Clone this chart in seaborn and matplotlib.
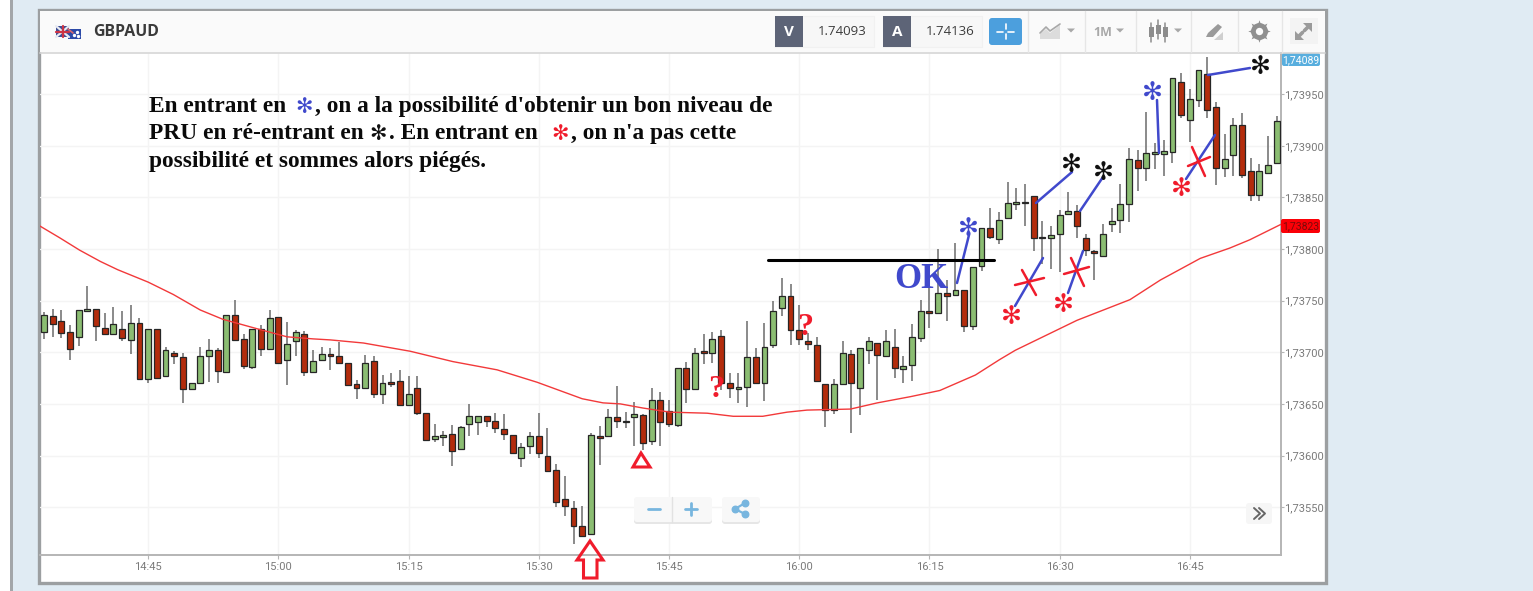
import numpy as np
import matplotlib
matplotlib.use("Agg")
import matplotlib.pyplot as plt
from matplotlib.patches import Rectangle, FancyBboxPatch, Polygon
import seaborn as sns

# price = 1.73 + value / 100000
opens = [720,735,730,720,715,740,742,724,718,723,712,728,674,723,677,699,695,664,670,696,702,681,736,713,686,723,703,734,693,711,718,681,693,
 698,696,690,669,665,692,660,671,672,649,665,641,616,618,621,606,631,632,638,633,626,620,598,609,619,600,586,558,549,532,524,619,619,
 637,632,637,639,614,654,643,630,685,664,701,699,716,670,664,666,695,670,707,743,755,722,711,707,669,644,669,698,665,702,709,696,705,684,688,714,
 740,738,757,756,760,725,784,820,810,830,844,845,851,812,811,815,834,837,811,798,793,824,828,844,886,879,892,892,894,962,925,944,970,938,879,891,920,876,852,874,883]
closes = [736,727,719,703,741,742,725,718,727,714,728,674,723,675,702,696,664,670,696,702,682,736,712,687,723,703,733,690,708,720,681,692,698,
 696,690,668,665,690,660,670,669,649,660,641,615,619,620,604,628,638,638,633,627,621,602,608,619,602,585,555,551,532,522,620,617,637,
 633,633,640,612,654,632,631,685,664,699,699,713,670,665,666,695,670,705,740,755,722,713,708,672,644,669,699,670,704,711,697,711,685,687,715,740,
 738,757,755,760,725,783,820,812,828,845,846,846,811,811,814,833,837,822,799,796,815,827,844,887,879,893,894,895,966,930,945,974,935,879,887,920,872,852,876,881,924]
highs = [739,742,741,726,741,764,742,738,744,740,746,733,723,723,705,701,699,670,705,713,704,736,751,718,723,726,741,734,729,722,721,702,705,
 704,710,690,673,697,696,678,680,683,677,677,641,631,624,630,629,650,638,638,641,640,620,612,623,641,627,592,580,556,551,622,629,645,
 667,642,652,640,665,662,654,685,691,704,718,720,722,680,680,730,704,728,750,772,766,746,719,715,669,674,711,702,704,715,709,722,723,696,727,751,
 770,800,770,806,760,783,820,840,836,865,859,863,851,827,822,838,855,843,815,799,824,840,863,898,896,933,903,906,966,971,955,974,986,943,912,927,932,888,882,910,929]
lows = [713,715,714,693,706,740,711,718,718,711,698,674,670,675,676,689,651,664,669,671,670,681,712,684,684,696,703,689,668,696,677,681,693,
 683,690,668,655,665,656,650,666,649,649,639,615,613,609,590,606,619,620,628,622,615,602,589,601,598,585,550,541,514,522,524,591,619,
 627,627,609,605,610,609,628,628,651,664,689,690,663,656,651,647,670,653,704,735,707,707,702,672,628,640,669,622,639,689,654,696,675,670,672,710,
 724,738,730,755,720,722,779,810,805,830,838,822,798,786,781,778,834,811,793,770,793,817,816,826,856,866,878,871,883,927,904,938,927,862,870,871,869,847,847,874,882]

# moving average
ma_minutes = [-0.6,1.8,4.1,6.5,8.5,12,14.9,18,20.6,24.9,28,31,33,36.8,42.2,47.1,52.2,56.8,59.4,62,64.4,66.4,69,72.1,76.4,79.4,82.8,85.6,87.9,92.9,96,99.8,103.2,107.3,110.1,111.9,119,125.1,128.6,133.2,136.6,138.9,142.5]
ma_values = [823,811,799,788,780,768,756,741,732,722,715,713,712,709,701,691,683,671,663,655,651,650,646,642,641,638,638,642,644,645,651,657,663,678,693,702,731,751,770,791,801,809,824]

time_ticks = [12,27,42,57,72,87,102,117,132]
time_labels = ["14:45","15:00","15:15","15:30","15:45","16:00","16:15","16:30","16:45"]
price_ticks = [1.73550,1.73600,1.73650,1.73700,1.73750,1.73800,1.73850,1.73900,1.73950]

sns.set_theme(style="white")
W, H = 1533, 591
fig = plt.figure(figsize=(W/100, H/100), dpi=100, facecolor="#e0ebf3")

def px_axes(z):
    a = fig.add_axes([0,0,1,1], zorder=z)
    a.set_xlim(0,W); a.set_ylim(H,0); a.axis("off"); a.patch.set_alpha(0)
    return a

bg = px_axes(0)
bg.add_patch(Rectangle((0,0),10,H,fc="white",ec="none"))
bg.add_patch(Rectangle((10,0),2.5,H,fc="#a3a6a9",ec="none"))
bg.add_patch(Rectangle((38.5,10),1287,573,fc="white",ec="#9c9fa1",lw=2.4))

# ---------- chart ----------
ax = fig.add_axes([40/W,(H-555)/H,(1281-40)/W,(555-53)/H], zorder=1)
ax.patch.set_alpha(0)
o = 1.73 + np.array(opens)/1e5
c = 1.73 + np.array(closes)/1e5
h = 1.73 + np.array(highs)/1e5
l = 1.73 + np.array(lows)/1e5
t = np.arange(len(o))
up = c >= o
ax.vlines(t, l, h, color="#6b6b6b", lw=1.1, zorder=3)
ax.bar(t, np.maximum(np.abs(c-o),1e-5), bottom=np.minimum(o,c), width=0.68,
       color=np.where(up,"#8bbd72","#b32c0c"), edgecolor="#262626", lw=0.9, zorder=4)
sns.lineplot(x=np.array(ma_minutes), y=1.73+np.array(ma_values)/1e5, ax=ax, color="#f2393a", lw=1.0, zorder=5, sort=False)
ax.set_xlim(-0.46,142.5); ax.set_ylim(1.735036,1.7399)
ax.set_xticks(time_ticks); ax.set_xticklabels(time_labels)
ax.set_yticks(price_ticks); ax.set_yticklabels([f"{p:.5f}".replace(".",",") for p in price_ticks])
ax.yaxis.tick_right()
ax.grid(True, color="#f4f4f4", lw=1); ax.set_axisbelow(True)
for s in ("left","top"): ax.spines[s].set_visible(False)
for s in ("right","bottom"):
    ax.spines[s].set_color("#b5b5b5"); ax.spines[s].set_linewidth(1.4)
ax.tick_params(axis="both", length=3, width=0.8, color="#b5b5b5", labelcolor="#7a7a7a", labelsize=8, pad=2, bottom=True, right=True)
ax.tick_params(axis="y", length=2, pad=0.5)
for tl in ax.get_xticklabels()+ax.get_yticklabels(): tl.set_family("Roboto")
ax.set_xlabel(""); ax.set_ylabel("")

# ---------- overlay (screenshot furniture and hand annotations) ----------
ov = px_axes(2)
BLUE, RED = "#4049cc", "#f01c2c"
# toolbar
ov.add_patch(Rectangle((40,11),1285,41,fc="#fafafa",ec="none"))
ov.plot([40,1325],[52.5,52.5],color="#d6d6d6",lw=1.2)
for x in (1028,1085,1136,1191,1238,1282):
    ov.plot([x,x],[11,52],color="#e6e6e6",lw=1)
ov.add_patch(Rectangle((1290,18),28,26,fc="#f3f3f3",ec="none"))
# flags
ov.add_patch(Rectangle((56,26),13,11,fc="#3d4f96",ec="none"))
ov.plot([56,69],[26,37],color="#e8eaf2",lw=1.6); ov.plot([56,69],[37,26],color="#e8eaf2",lw=1.6)
ov.plot([62.5,62.5],[26,37],color="#cc3344",lw=1.6); ov.plot([56,69],[31.5,31.5],color="#cc3344",lw=1.6)
ov.add_patch(Rectangle((68,29),13,10,fc="#2c4aa8",ec="none"))
ov.plot([68,73],[29,33],color="#d86a70",lw=1.2)
ov.scatter([77,74,78],[32,35,36],s=2,color="white",zorder=3)
ov.text(93,31.5,"GBPAUD",family="Open Sans",weight="bold",fontsize=11.4,color="#3a3a3a",va="center")
for x0,lab,val,x1 in ((775,"V","1.74093",874),(883,"A","1.74136",982)):
    ov.add_patch(Rectangle((x0,16),x1-x0,31,fc="#f7f7f7",ec="#f1f1f1",lw=0.8))
    ov.add_patch(Rectangle((x0,16),28,31,fc="#5d6477",ec="none"))
    ov.text(x0+14,31.5,lab,color="white",family="Open Sans",weight="bold",fontsize=11,ha="center",va="center")
    ov.text(x1-7,31.5,val,color="#3c3c3c",family="Open Sans",fontsize=9.5,ha="right",va="center")
ov.add_patch(FancyBboxPatch((989,18),33,27,boxstyle="round,pad=0,rounding_size=3",fc="#4c9fdd",ec="none"))
ov.plot([997,1003],[31.5,31.5],color="white",lw=1.2); ov.plot([1008,1014],[31.5,31.5],color="white",lw=1.2)
ov.plot([1005.5,1005.5],[24,29],color="white",lw=1.2); ov.plot([1005.5,1005.5],[34,39],color="white",lw=1.2)
GREY = "#a8a8a8"
ov.add_patch(Polygon([(1040,39),(1040,34),(1046,29),(1050,33),(1060,25),(1060,39)],fc="#dcdcdc",ec="none"))
ov.plot([1040,1046,1050,1060],[33,27,31,24],color=GREY,lw=1.2)
for x in (1071,1120,1178):
    ov.add_patch(Polygon([(x-4,28.5),(x+4,28.5),(x,32.5)],fc=GREY,ec="none"))
ov.text(1103,32,"1M",color=GREY,family="Open Sans",weight="bold",fontsize=9,ha="center",va="center")
for x,a,b,w0,w1 in ((1151,27,37,23,42),(1158,25,34,20,39),(1165,27,37,23,42)):
    ov.plot([x,x],[w0,w1],color="#8c8c8c",lw=1.1)
    ov.add_patch(Rectangle((x-2.5,a),5,b-a,fc="#8c8c8c",ec="none"))
ov.add_patch(Polygon([(1206,37),(1208,33),(1218,24),(1222,27),(1213,37)],fc="#9a9a9a",ec="none"))
ov.add_patch(Polygon([(1214,40),(1223,32),(1223,40)],fc="#cfcfcf",ec="none"))
ov.scatter([1259],[31],marker=(8,1,0),s=260,color="#8f8f8f",linewidths=0,zorder=3)
ov.scatter([1259],[31],marker="o",s=150,color="#8f8f8f",linewidths=0,zorder=3)
ov.scatter([1259],[31],marker="o",s=28,color="#fafafa",linewidths=0,zorder=4)
ov.plot([1307.5,1304.5],[27.5,30.5],color="#9a9a9a",lw=2.6)
ov.plot([1299.5,1302.5],[35.5,32.5],color="#9a9a9a",lw=2.6)
ov.add_patch(Polygon([(1303,23),(1312,23),(1312,32)],fc="#9a9a9a",ec="none"))
ov.add_patch(Polygon([(1295,31),(1295,40),(1304,40)],fc="#9a9a9a",ec="none"))
# price tags
ov.add_patch(FancyBboxPatch((1282,53),38,13,boxstyle="round,pad=0,rounding_size=2",fc="#58aede",ec="none"))
ov.text(1301,60,"1,74089",color="white",family="Roboto",fontsize=7.5,ha="center",va="center")
ov.add_patch(FancyBboxPatch((1281,219),39,14,boxstyle="round,pad=0,rounding_size=2",fc="#fb0007",ec="none"))
ov.text(1300.5,226.5,"1,73823",color="#7a0a0a",family="Roboto",fontsize=7.5,ha="center",va="center")
# zoom and share buttons
for x0,x1 in ((634,712),(722,760)):
    ov.add_patch(FancyBboxPatch((x0,498),x1-x0,26,boxstyle="round,pad=0,rounding_size=3",fc="#e6e6e6",ec="none"))
    ov.add_patch(FancyBboxPatch((x0,497),x1-x0,25,boxstyle="round,pad=0,rounding_size=3",fc="#f8f8f8",ec="none"))
ov.plot([672,672],[497,522],color="#e2e2e2",lw=1)
IC = "#78b6df"
ov.plot([648,660],[509,509],color=IC,lw=2)
ov.plot([685,697],[509,509],color=IC,lw=2); ov.plot([691,691],[503,515],color=IC,lw=2)
ov.plot([745,735,745],[503,509,514],color=IC,lw=1.6)
ov.scatter([745,735,745],[503,509,514],s=22,color=IC,zorder=3)
ov.add_patch(FancyBboxPatch((1246,503),26,21,boxstyle="round,pad=0,rounding_size=3",fc="#f6f6f6",ec="none"))
ov.plot([1254,1260,1254],[508,513.5,519],color="#666666",lw=1.4)
ov.plot([1259,1265,1259],[508,513.5,519],color="#666666",lw=1.4)

# explanatory text
SERIF = dict(family="Liberation Serif", weight="bold", color="#0a0a0a", fontsize=16.8, va="baseline")
ov.text(149,112,"En entrant en",**SERIF)
ov.text(315,112,", on a la possibilité d'obtenir un bon niveau de",**SERIF)
ov.text(149,139,"PRU en ré-entrant en",**SERIF)
ov.text(389,139,". En entrant en",**SERIF)
ov.text(571,139,", on n'a pas cette",**SERIF)
ov.text(149,167,"possibilité et sommes alors piégés.",**SERIF)

def star(x,y,color,size=17):
    ov.text(x,y,"\u273b",family="DejaVu Sans",color=color,fontsize=size,ha="center",va="center_baseline")
for x,y,col,s in ((304,105,BLUE,15),(378,132,"#111111",15),(560,132,RED,15),
                  (968,226,BLUE,18),(1152,91,BLUE,18),(1071,162,"#111111",18),(1103,171,"#111111",18),(1260,64,"#111111",18),
                  (1011,314,RED,18),(1063,303,RED,18),(1181,186,RED,18)):
    star(x,y,col,s)

for a,b,cc,dd in ((969,235,957,283),(1036,203,1072,172),(1043,258,1015,306),(1103,177,1080,211),(1083,251,1068,293),
                  (1157,100,1159,153),(1208,75,1250,68),(1215,135,1186,179)):
    ov.plot([a,cc],[b,dd],color=BLUE,lw=1.8,solid_capstyle="round")
for a,b,cc,dd in ((1022,270,1036,295),(1015,285,1044,278),(1071,258,1084,286),(1064,274,1089,267),(1192,147,1205,176),(1188,166,1210,157)):
    ov.plot([a,cc],[b,dd],color=RED,lw=1.8)
ov.plot([768,994],[260,260],color="black",lw=2.2)
ov.text(921,288,"OK",family="Liberation Serif",weight="bold",color=BLUE,fontsize=25,ha="center",va="baseline")
ov.text(805.5,335,"?",family="Liberation Serif",weight="bold",color=RED,fontsize=23,ha="center",va="baseline")
ov.text(716,397,"?",family="Liberation Serif",weight="bold",color=RED,fontsize=23,ha="center",va="baseline")
ov.add_patch(Polygon([(590,541),(577,560),(583.5,560),(583.5,578),(597,578),(597,560),(603,560)],fc="none",ec=RED,lw=2.2,joinstyle="miter"))
ov.add_patch(Polygon([(641,453),(633,467),(650,467)],fc="none",ec=RED,lw=2.2,joinstyle="miter"))

fig.savefig("out.png", dpi=100, facecolor=fig.get_facecolor())
